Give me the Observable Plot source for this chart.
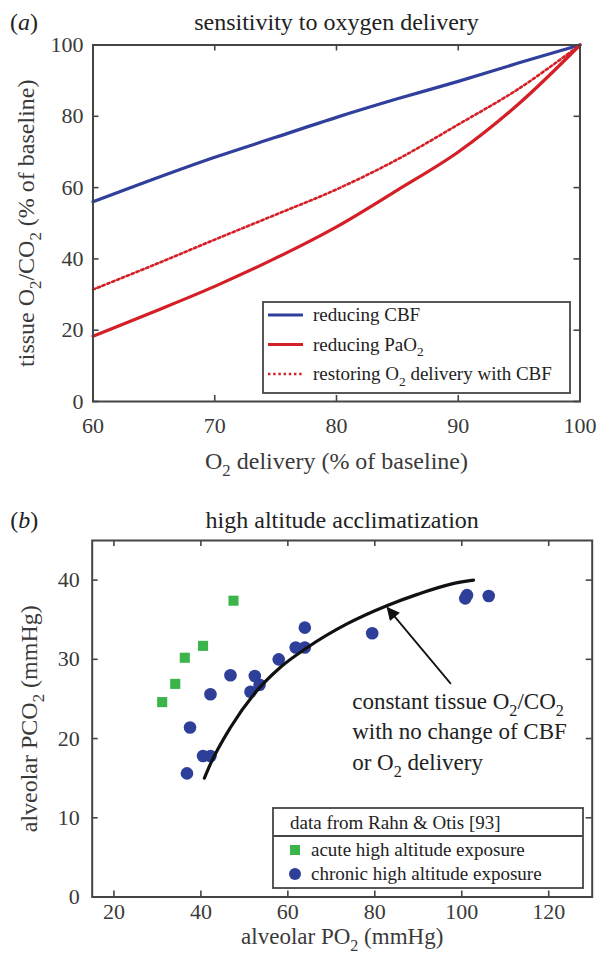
<!DOCTYPE html>
<html><head><meta charset="utf-8">
<script src="https://cdn.jsdelivr.net/npm/d3@7"></script>
<script src="https://cdn.jsdelivr.net/npm/@observablehq/plot@0.6"></script>
<style>
html,body{margin:0;padding:0;background:#fff;}
#chart svg{display:block;}
</style></head><body><div id="chart"></div>
<script>
// ---------- Panel (a) data ----------
const deliveryPct = [60, 65, 70, 75, 80, 85, 90, 95, 100];
const tissueReducingCBF = [56.0, 62.4, 68.5, 74.1, 79.7, 84.9, 89.8, 95.0, 100];
const tissueReducingPaO2 = [18.3, 25.2, 32.3, 40.2, 49.0, 59.3, 70.0, 83.6, 100];
const tissueRestoringO2 = [31.4, 38.3, 45.4, 52.4, 59.5, 67.9, 77.7, 87.8, 100];
const seriesNamesA = ["reducing CBF", "reducing PaO₂", "restoring O₂ delivery with CBF"];
const aXTicks = [60, 70, 80, 90, 100];
const aYTicks = [0, 20, 40, 60, 80, 100];

// ---------- Panel (b) data ----------
const acutePO2 = [31.1, 34.1, 36.3, 40.5, 47.5];
const acutePCO2 = [24.6, 26.9, 30.2, 31.7, 37.4];
const chronicPO2 = [36.8, 37.5, 40.5, 42.2, 42.2, 46.8, 51.4, 52.4, 53.5, 57.9, 61.8, 63.9, 63.9, 79.4, 100.8, 101.2, 106.2];
const chronicPCO2 = [15.6, 21.4, 17.8, 17.8, 25.6, 28.0, 25.9, 27.9, 26.8, 30.0, 31.5, 31.5, 34.0, 33.3, 37.7, 38.1, 38.0];
const constantPO2 = [40.8, 42.2, 46.8, 52.2, 58.3, 64.5, 73.7, 82.9, 89.8, 97.5, 102.7];
const constantPCO2 = [15.0, 16.8, 21.4, 25.6, 29.0, 31.5, 34.5, 36.8, 38.2, 39.5, 40.0];
const arrowFrom = [97.5, 26.9];
const arrowTo = [82.9, 36.5];
const annotationAt = [74.8, 24.7];
const annotationLines = ["constant tissue O₂/CO₂", "with no change of CBF", "or O₂ delivery"];
const legendTitleB = "data from Rahn & Otis [93]";
const seriesNamesB = ["acute high altitude exposure", "chronic high altitude exposure"];
const bXTicks = [20, 40, 60, 80, 100, 120];
const bYTicks = [0, 10, 20, 30, 40];

// ---------- style ----------
const FONT = '"Liberation Serif","Times New Roman",Times,serif';
const BLUE = "#2f3f9b", RED = "#d41f26", GREEN = "#3bb54a", DOTBLUE = "#2e3f9a";
const AX = "#454545", TXT = "#3a3a3a";
const TICK = 6;
const NS = "http://www.w3.org/2000/svg";

function fixText(root) {
  const walker = document.createTreeWalker(root, NodeFilter.SHOW_TEXT);
  const nodes = [];
  while (walker.nextNode()) nodes.push(walker.currentNode);
  for (const node of nodes) {
    const v = node.nodeValue;
    if (/^\((a|b)\)$/.test(v)) {
      const frag = document.createDocumentFragment();
      frag.appendChild(document.createTextNode("("));
      const it = document.createElementNS(NS, "tspan");
      it.setAttribute("font-style", "italic");
      it.textContent = v[1];
      frag.appendChild(it);
      frag.appendChild(document.createTextNode(")"));
      node.parentNode.replaceChild(frag, node);
      continue;
    }
    if (!v.includes("₂")) continue;
    const parts = v.split("₂");
    const frag = document.createDocumentFragment();
    parts.forEach((p, i) => {
      if (i > 0) {
        const s = document.createElementNS(NS, "tspan");
        s.setAttribute("font-size", "70%");
        s.setAttribute("dy", "0.43em");
        s.textContent = "2";
        frag.appendChild(s);
        if (p) {
          const r = document.createElementNS(NS, "tspan");
          r.setAttribute("dy", "-0.3em");
          r.textContent = p;
          frag.appendChild(r);
        }
      } else if (p) frag.appendChild(document.createTextNode(p));
    });
    node.parentNode.replaceChild(frag, node);
  }
}

// ---------- Panel (a) ----------
const mA = {left: 92.5, right: 17.5, top: 44.5, bottom: 84};
const WA = 597, HA = 485;
const FWA = WA - mA.left - mA.right, FHA = HA - mA.top - mA.bottom;
const rowsA = [];
deliveryPct.forEach((x, i) => {
  rowsA.push({x, y: tissueReducingCBF[i], s: seriesNamesA[0]});
  rowsA.push({x, y: tissueReducingPaO2[i], s: seriesNamesA[1]});
  rowsA.push({x, y: tissueRestoringO2[i], s: seriesNamesA[2]});
});
const styleA = {
  [seriesNamesA[0]]: {stroke: BLUE, strokeWidth: 3.2},
  [seriesNamesA[1]]: {stroke: RED, strokeWidth: 3.2},
  [seriesNamesA[2]]: {stroke: RED, strokeWidth: 2.6, strokeDasharray: "2.4,2.8"}
};

const plotA = Plot.plot({
  width: WA, height: HA,
  marginLeft: mA.left, marginRight: mA.right, marginTop: mA.top, marginBottom: mA.bottom,
  style: {fontFamily: FONT, fontSize: "22px", color: TXT, background: "white"},
  x: {domain: [60, 100]},
  y: {domain: [0, 100]},
  marks: [
    Plot.ruleX(aXTicks, {x: d => d, insetTop: FHA - TICK, stroke: AX, strokeWidth: 1.6}),
    Plot.ruleX(aXTicks, {x: d => d, insetBottom: FHA - TICK, stroke: AX, strokeWidth: 1.6}),
    Plot.ruleY(aYTicks, {y: d => d, insetRight: FWA - TICK, stroke: AX, strokeWidth: 1.6}),
    Plot.ruleY(aYTicks, {y: d => d, insetLeft: FWA - TICK, stroke: AX, strokeWidth: 1.6}),
    ...seriesNamesA.map(name => Plot.line(rowsA.filter(d => d.s === name), {
      x: "x", y: "y", curve: "catmull-rom", ...styleA[name]
    })),
    Plot.frame({stroke: AX, strokeWidth: 2}),
    Plot.axisX(aXTicks, {tickSize: 0, tickPadding: 15.5, fontSize: 22, fill: TXT, label: null}),
    Plot.axisY(aYTicks, {tickSize: 0, tickPadding: 9.5, fontSize: 22, fill: TXT, label: null}),
    Plot.text(["sensitivity to oxygen delivery"], {frameAnchor: "top", lineAnchor: "middle", textAnchor: "middle", dy: -22.5, fontSize: 24, fill: "#222"}),
    Plot.text(["(a)"], {frameAnchor: "top-left", lineAnchor: "middle", textAnchor: "start", dx: -83, dy: -22.5, fontSize: 24, fill: "#222"}),
    Plot.text(["O₂ delivery (% of baseline)"], {frameAnchor: "bottom", lineAnchor: "middle", textAnchor: "middle", dy: 60, fontSize: 24, fill: TXT}),
    Plot.text(["tissue O₂/CO₂ (% of baseline)"], {frameAnchor: "left", lineAnchor: "middle", textAnchor: "middle", dx: -67, rotate: -90, fontSize: 24, fill: TXT})
  ]
});

// legend (a)
{
  const svg = d3.select(plotA);
  const g = svg.append("g").attr("font-family", FONT).attr("font-size", 19).attr("fill", "#222").attr("text-anchor", "start");
  const bx = 263, by = 302, bw = 307, bh = 91;
  g.append("rect").attr("x", bx).attr("y", by).attr("width", bw).attr("height", bh)
    .attr("fill", "white").attr("stroke", AX).attr("stroke-width", 1.8);
  seriesNamesA.forEach((name, i) => {
    const cy = by + 13 + i * 29.5;
    const st = styleA[name];
    g.append("line").attr("x1", bx + 5).attr("x2", bx + 40).attr("y1", cy).attr("y2", cy)
      .attr("stroke", st.stroke).attr("stroke-width", st.strokeWidth)
      .attr("stroke-dasharray", st.strokeDasharray || null);
    g.append("text").attr("x", bx + 50).attr("y", cy).attr("dy", "0.32em").text(name);
  });
}
fixText(plotA);

// ---------- Panel (b) ----------
const mB = {left: 91.7, right: 5.3, top: 55, bottom: 58.5};
const WB = 597, HB = 470;
const FWB = WB - mB.left - mB.right, FHB = HB - mB.top - mB.bottom;
const acute = acutePO2.map((x, i) => ({x, y: acutePCO2[i]}));
const chronic = chronicPO2.map((x, i) => ({x, y: chronicPCO2[i]}));
const constant = constantPO2.map((x, i) => ({x, y: constantPCO2[i]}));

const plotB = Plot.plot({
  width: WB, height: HB,
  marginLeft: mB.left, marginRight: mB.right, marginTop: mB.top, marginBottom: mB.bottom,
  style: {fontFamily: FONT, fontSize: "22px", color: TXT, background: "white"},
  x: {domain: [15, 130]},
  y: {domain: [0, 45]},
  marks: [
    Plot.ruleX(bXTicks, {x: d => d, insetTop: FHB - TICK, stroke: AX, strokeWidth: 1.6}),
    Plot.ruleX(bXTicks, {x: d => d, insetBottom: FHB - TICK, stroke: AX, strokeWidth: 1.6}),
    Plot.ruleY(bYTicks, {y: d => d, insetRight: FWB - TICK, stroke: AX, strokeWidth: 1.6}),
    Plot.ruleY(bYTicks, {y: d => d, insetLeft: FWB - TICK, stroke: AX, strokeWidth: 1.6}),
    Plot.dot(acute, {x: "x", y: "y", symbol: "square", r: 5.7, fill: GREEN, stroke: "none"}),
    Plot.dot(chronic, {x: "x", y: "y", r: 6.3, fill: DOTBLUE, stroke: "none"}),
    Plot.line(constant, {x: "x", y: "y", curve: "monotone-x", stroke: "#111", strokeWidth: 3.2}),
    Plot.link([{x1: arrowFrom[0], y1: arrowFrom[1], x2: arrowTo[0], y2: arrowTo[1]}],
      {x1: "x1", y1: "y1", x2: "x2", y2: "y2", stroke: "#111", strokeWidth: 1.8}),
    ...annotationLines.map((line, i) => Plot.text([line], {
      x: () => annotationAt[0], y: () => annotationAt[1], dy: i * 30.5,
      textAnchor: "start", lineAnchor: "middle", fontSize: 23, fill: "#222"
    })),
    Plot.frame({stroke: AX, strokeWidth: 2}),
    Plot.axisX(bXTicks, {tickSize: 0, tickPadding: 6.5, fontSize: 22, fill: TXT, label: null}),
    Plot.axisY(bYTicks, {tickSize: 0, tickPadding: 12.5, fontSize: 22, fill: TXT, label: null}),
    Plot.text(["high altitude acclimatization"], {frameAnchor: "top", lineAnchor: "middle", textAnchor: "middle", dy: -20, fontSize: 24, fill: "#222"}),
    Plot.text(["(b)"], {frameAnchor: "top-left", lineAnchor: "middle", textAnchor: "start", dx: -82, dy: -20, fontSize: 24, fill: "#222"}),
    Plot.text(["alveolar PO₂ (mmHg)"], {frameAnchor: "bottom", lineAnchor: "middle", textAnchor: "middle", dy: 40, fontSize: 23, fill: TXT}),
    Plot.text(["alveolar PCO₂ (mmHg)"], {frameAnchor: "left", lineAnchor: "middle", textAnchor: "middle", dx: -63, rotate: -90, fontSize: 24, fill: TXT})
  ]
});

{
  const svg = d3.select(plotB);
  const defs = svg.append("defs");
  defs.append("marker").attr("id", "arrowhead-b").attr("viewBox", "0 -5 10 10")
    .attr("refX", 9).attr("refY", 0).attr("markerUnits", "userSpaceOnUse")
    .attr("markerWidth", 15).attr("markerHeight", 13).attr("orient", "auto")
    .append("path").attr("d", "M0,-5L10,0L0,5Z").attr("fill", "#111");
  svg.selectAll('g[aria-label="link"] path').attr("marker-end", "url(#arrowhead-b)");

  const g = svg.append("g").attr("font-family", FONT).attr("font-size", 19).attr("fill", "#222").attr("text-anchor", "start");
  const bx = 273, by = 323, bw = 310, bh = 80, div = 28;
  g.append("rect").attr("x", bx).attr("y", by).attr("width", bw).attr("height", bh)
    .attr("fill", "white").attr("stroke", AX).attr("stroke-width", 1.8);
  g.append("line").attr("x1", bx).attr("x2", bx + bw).attr("y1", by + div).attr("y2", by + div)
    .attr("stroke", AX).attr("stroke-width", 1.8);
  g.append("text").attr("x", bx + 17).attr("y", by + 15).attr("dy", "0.32em").text(legendTitleB);
  const r1 = by + 42, r2 = by + 66;
  g.append("rect").attr("x", bx + 17).attr("y", r1 - 5).attr("width", 10).attr("height", 10).attr("fill", GREEN);
  g.append("circle").attr("cx", bx + 22).attr("cy", r2).attr("r", 6).attr("fill", DOTBLUE);
  g.append("text").attr("x", bx + 38).attr("y", r1).attr("dy", "0.32em").text(seriesNamesB[0]);
  g.append("text").attr("x", bx + 38).attr("y", r2).attr("dy", "0.32em").text(seriesNamesB[1]);
}
fixText(plotB);

const chart = document.getElementById("chart");
chart.appendChild(plotA);
chart.appendChild(plotB);
</script>
</body></html>
